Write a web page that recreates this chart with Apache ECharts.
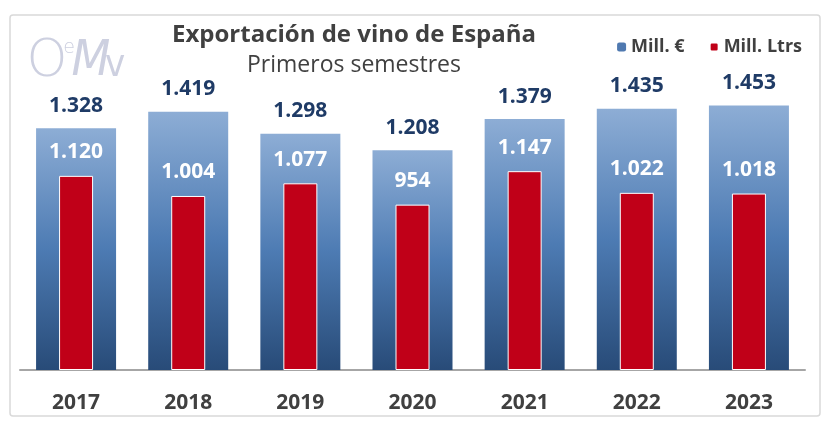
<!DOCTYPE html>
<html>
<head>
<meta charset="utf-8">
<script src="https://cdn.jsdelivr.net/npm/echarts@6/dist/echarts.min.js"></script>
<style>
  html, body { margin: 0; padding: 0; background: #fff; }
  #chart { width: 835px; height: 428px; }
</style>
</head>
<body>
<div id="chart"></div>
<script>
// datos
const years = ['2017', '2018', '2019', '2020', '2021', '2022', '2023'];
const millEuros = [1328, 1419, 1298, 1208, 1379, 1435, 1453];
const millLitros = [1120, 1004, 1077, 954, 1147, 1022, 1018];

// formato español: 1.328
const fmt = v => {
  const s = String(v);
  return s.length > 3 ? s.slice(0, s.length - 3) + '.' + s.slice(-3) : s;
};

const font = '"Open Sans", "Noto Sans", sans-serif';
const logoColor = '#cdd0e0';

const myChart = echarts.init(document.getElementById('chart'));
myChart.setOption({
  animation: false,
  textStyle: { fontFamily: font },
  graphic: [
    {
      type: 'rect',
      shape: { x: 10, y: 15, width: 810, height: 401, r: 3 },
      style: { fill: 'none', stroke: '#d9d9d9', lineWidth: 1.5 },
      z: -1
    },
    // logo OeMv
    { type: 'text', x: 47, y: 62, style: { text: 'O', font: '200 52px "DejaVu Sans"', fill: logoColor, textAlign: 'center', textVerticalAlign: 'middle' } },
    { type: 'text', x: 69, y: 48, style: { text: 'e', font: '200 19px "DejaVu Sans"', fill: logoColor, textAlign: 'center', textVerticalAlign: 'middle' } },
    { type: 'text', x: 91, y: 62, style: { text: 'M', font: 'italic 200 50px "DejaVu Sans Condensed", "DejaVu Sans"', fill: logoColor, textAlign: 'center', textVerticalAlign: 'middle' } },
    { type: 'text', x: 115, y: 66, style: { text: 'v', font: '200 38px "DejaVu Sans Condensed", "DejaVu Sans"', fill: logoColor, textAlign: 'center', textVerticalAlign: 'middle' } },
    {
      type: 'text', x: 354, y: 35,
      style: {
        text: 'Exportación de vino de España', fill: '#404040',
        font: 'bold 24px ' + font, textAlign: 'center', textVerticalAlign: 'middle'
      }
    },
    {
      type: 'text', x: 354, y: 65,
      style: {
        text: 'Primeros semestres', fill: '#404040',
        font: '23px ' + font, textAlign: 'center', textVerticalAlign: 'middle'
      }
    }
  ],
  legend: {
    top: 33,
    right: 28,
    itemWidth: 9,
    itemHeight: 9,
    itemGap: 24,
    textStyle: { color: '#404040', fontWeight: 'bold', fontSize: 18, fontFamily: font },
    data: [
      { name: 'Mill. €', itemStyle: { color: '#4f79b0' } },
      { name: 'Mill. Ltrs', itemStyle: { color: '#c00018' } }
    ]
  },
  grid: { left: 20, right: 30, top: 6, bottom: 58 },
  xAxis: [
    {
      type: 'category',
      data: years,
      axisTick: { show: false },
      axisLine: { lineStyle: { color: '#a6a6a6', width: 2 } },
      axisLabel: { color: '#404040', fontSize: 21, fontWeight: 'bold', margin: 23 }
    },
    {
      type: 'category',
      data: years,
      show: false
    }
  ],
  yAxis: [
    { type: 'value', min: 0, max: 2000, show: false, splitLine: { show: false } },
    { type: 'value', min: 0, max: 2100, show: false, splitLine: { show: false } }
  ],
  series: [
    {
      name: 'Mill. €',
      type: 'bar',
      xAxisIndex: 0,
      yAxisIndex: 0,
      barWidth: 80,
      data: millEuros,
      itemStyle: {
        color: new echarts.graphic.LinearGradient(0, 0, 0, 1, [
          { offset: 0, color: '#8dadd5' },
          { offset: 0.5, color: '#4d7bb3' },
          { offset: 1, color: '#284b78' }
        ])
      },
      label: {
        show: true,
        position: 'top',
        distance: 12,
        color: '#1f3b66',
        fontSize: 21,
        fontWeight: 'bold',
        formatter: p => fmt(p.value)
      }
    },
    {
      name: 'Mill. Ltrs',
      type: 'bar',
      xAxisIndex: 1,
      yAxisIndex: 1,
      barWidth: 34,
      data: millLitros,
      itemStyle: { color: '#c00018', borderColor: '#ffffff', borderWidth: 1 },
      label: {
        show: true,
        position: 'top',
        distance: 13,
        color: '#ffffff',
        fontSize: 21,
        fontWeight: 'bold',
        formatter: p => fmt(p.value)
      }
    }
  ]
});
</script>
</body>
</html>
